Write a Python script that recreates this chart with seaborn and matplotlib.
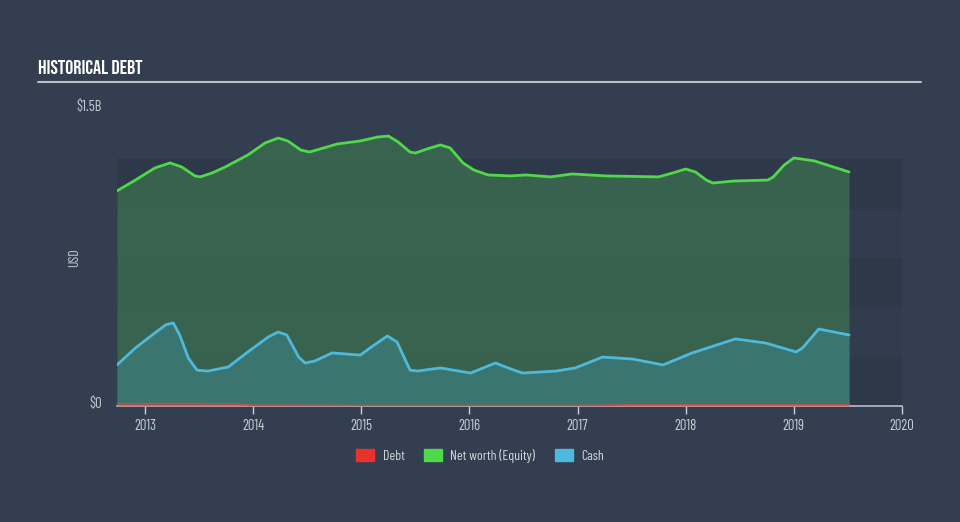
import numpy as np
import pandas as pd
import matplotlib
matplotlib.use("Agg")
import matplotlib.pyplot as plt
from matplotlib.patches import Patch
from matplotlib import font_manager
import seaborn as sns

# ---- data (USD billions, x in decimal years) ----
equity_x = [2012.74, 2012.91, 2013.09, 2013.23, 2013.34, 2013.46, 2013.51, 2013.62,
            2013.74, 2013.95, 2014.11, 2014.23, 2014.32, 2014.44, 2014.52, 2014.78,
            2014.99, 2015.15, 2015.25, 2015.34, 2015.45, 2015.50, 2015.61, 2015.73,
            2015.82, 2015.94, 2016.04, 2016.17, 2016.38, 2016.52, 2016.75, 2016.95,
            2017.26, 2017.75, 2017.88, 2018.00, 2018.09, 2018.19, 2018.25, 2018.44,
            2018.76, 2018.81, 2018.91, 2019.00, 2019.19, 2019.51]
equity_y = [1.090, 1.145, 1.206, 1.232, 1.211, 1.166, 1.161, 1.181,
            1.211, 1.272, 1.333, 1.358, 1.343, 1.297, 1.287, 1.328,
            1.343, 1.363, 1.368, 1.338, 1.287, 1.282, 1.303, 1.323,
            1.308, 1.232, 1.196, 1.171, 1.166, 1.171, 1.161, 1.176,
            1.166, 1.161, 1.181, 1.201, 1.186, 1.145, 1.130, 1.140,
            1.145, 1.161, 1.221, 1.257, 1.242, 1.186]

cash_x = [2012.74, 2012.91, 2013.09, 2013.19, 2013.26, 2013.32, 2013.40, 2013.48,
          2013.58, 2013.77, 2013.95, 2014.14, 2014.23, 2014.31, 2014.42, 2014.48,
          2014.57, 2014.73, 2014.99, 2015.08, 2015.24, 2015.33, 2015.45, 2015.52,
          2015.73, 2016.01, 2016.24, 2016.38, 2016.49, 2016.80, 2016.98, 2017.23,
          2017.51, 2017.79, 2018.06, 2018.46, 2018.74, 2019.02, 2019.08, 2019.23,
          2019.51]
cash_y = [0.208, 0.294, 0.370, 0.411, 0.421, 0.360, 0.243, 0.182,
          0.177, 0.198, 0.274, 0.350, 0.375, 0.360, 0.248, 0.218,
          0.228, 0.269, 0.258, 0.294, 0.355, 0.324, 0.182, 0.177,
          0.193, 0.167, 0.218, 0.188, 0.167, 0.177, 0.193, 0.248,
          0.238, 0.208, 0.269, 0.340, 0.319, 0.274, 0.294, 0.390,
          0.360]

debt_x = [2012.74, 2013.00, 2013.50, 2013.80, 2014.00, 2015.00, 2016.00, 2017.00,
          2017.50, 2018.00, 2019.00, 2019.51]
debt_y = [0.010, 0.012, 0.012, 0.010, 0.004, 0.002, 0.002, 0.002,
          0.006, 0.006, 0.006, 0.006]

year_ticks = [2013, 2014, 2015, 2016, 2017, 2018, 2019, 2020]
legend_labels = ["Debt", "Net worth (Equity)", "Cash"]

BG = "#333f50"
GREEN = "#4fd84a"
BLUE = "#4db9dc"
RED = "#e8322c"
TXT = "#c9cdd3"

sns.set_theme(style="dark")
avail = {f.name for f in font_manager.fontManager.ttflist}
title_font = "Bebas Neue" if "Bebas Neue" in avail else "DejaVu Sans"
body_font = "Barlow Condensed" if "Barlow Condensed" in avail else "DejaVu Sans"
plt.rcParams["font.family"] = [body_font, "DejaVu Sans"]

fig = plt.figure(figsize=(9.6, 5.22), dpi=100, facecolor=BG)
ax = fig.add_axes([117/960, 1-406/522, 785/960, (406-110)/522])
ax.set_facecolor(BG)

# background bands
band_cols = ["#2d3949", "#313d4f"]
for i in range(5):
    ax.axhspan(i*0.25, (i+1)*0.25, color=band_cols[i % 2], lw=0, zorder=0)

eq = pd.DataFrame({"x": equity_x, "y": equity_y})
ca = pd.DataFrame({"x": cash_x, "y": cash_y})
de = pd.DataFrame({"x": debt_x, "y": debt_y})

ax.fill_between(eq.x, eq.y, color="#3a6a4f", alpha=0.85, lw=0, zorder=1)
ax.fill_between(ca.x, ca.y, color="#3b7a78", alpha=0.8, lw=0, zorder=2)
ax.fill_between(de.x, de.y, color=RED, alpha=0.5, lw=0, zorder=3)

sns.lineplot(data=eq, x="x", y="y", ax=ax, color=GREEN, lw=2, zorder=4)
sns.lineplot(data=ca, x="x", y="y", ax=ax, color=BLUE, lw=2, zorder=4)
sns.lineplot(data=de, x="x", y="y", ax=ax, color="#c0504a", lw=1.2, zorder=4)

ax.set_xlim(2012.74, 2020.0)
ax.set_ylim(0, 1.5)
for s in ["top", "right", "left"]:
    ax.spines[s].set_visible(False)
ax.spines["bottom"].set_color("#b9bec6")
ax.spines["bottom"].set_linewidth(1.2)
ax.set_xticks(year_ticks)
ax.set_xticklabels([str(y) for y in year_ticks])
ax.tick_params(axis="x", colors=TXT, length=6, width=1, direction="out",
               labelsize=10.5, pad=3, bottom=True)
ax.set_yticks([])
ax.set_xlabel("")
ax.set_ylabel("")
ax.grid(False)

fig.text(102/960, 1-404/522, "$0", color=TXT, fontsize=10.5, ha="right", va="center")
fig.text(102/960, 1-107/522, "$1.5B", color=TXT, fontsize=10.5, ha="right", va="center")
fig.text(75/960, 1-258/522, "USD", color=TXT, fontsize=10, rotation=90, ha="center", va="center")

fig.text(38/960, 1-67/522, "HISTORICAL DEBT", color="white", fontsize=14.5,
         family=[title_font, "DejaVu Sans"], ha="left", va="center")
fig.add_artist(plt.Line2D([38/960, 921/960], [1-82/522, 1-82/522],
                          color="#b9bec6", lw=1.5, transform=fig.transFigure))

handles = [Patch(color=RED), Patch(color=GREEN), Patch(color=BLUE)]
fig.legend(handles, legend_labels, loc="center", bbox_to_anchor=(0.5, 1-456/522),
           ncol=3, frameon=False, fontsize=10, labelcolor="#d3d7dc",
           handlelength=1.3, handleheight=1.0, columnspacing=1.4, handletextpad=0.6)

fig.savefig("out.png", dpi=100, facecolor=BG)
